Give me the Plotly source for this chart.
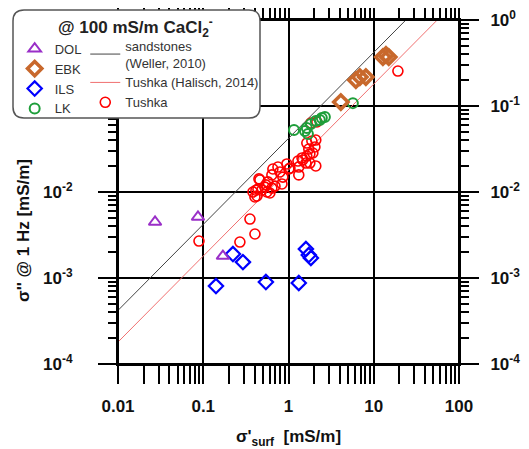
import plotly.graph_objects as go

# ---------------- data ----------------
dol_x = [0.0272, 0.0867, 0.170]
dol_y = [0.00448, 0.00512, 0.00180]

ebk_x = [4.11, 6.17, 6.87, 8.08, 12.8, 13.9, 15.0]
ebk_y = [0.111, 0.200, 0.217, 0.217, 0.371, 0.392, 0.371]

ils_x = [0.223, 0.292, 0.141, 0.543, 1.32, 1.60, 1.73, 1.83]
ils_y = [0.00190, 0.00153, 0.000807, 0.000898, 0.000875, 0.00217, 0.00185, 0.00171]

lk_x = [1.16, 1.56, 1.64, 1.69, 1.83, 2.09, 2.33, 2.46, 2.67, 5.69]
lk_y = [0.0526, 0.0512, 0.0555, 0.0472, 0.0618, 0.0669, 0.0688, 0.0725, 0.0745, 0.108]

tushka_x = [0.0891, 0.353, 0.269, 0.404, 0.383, 0.404, 0.438, 0.487, 0.558, 0.605,
            0.528, 0.638, 0.450, 0.573, 0.638, 0.656, 0.793, 0.859, 0.838, 0.694,
            0.957, 1.01, 1.32, 1.32, 1.47, 1.64, 1.78, 1.93, 2.09, 1.78,
            1.64, 1.88, 2.09, 2.04, 1.73, 1.44, 1.29, 1.04, 0.462, 0.752,
            0.427, 1.83, 2.15, 19.2, 1.60, 0.543, 0.415]
tushka_y = [0.00269, 0.00485, 0.00262, 0.00325, 0.0100, 0.00875, 0.0108, 0.0105, 0.0100, 0.00973,
            0.0114, 0.0111, 0.0142, 0.0131, 0.0158, 0.0185, 0.0171, 0.0149, 0.0124, 0.0117,
            0.0212, 0.0185, 0.0195, 0.0158, 0.0236, 0.0262, 0.0277, 0.0284, 0.0201, 0.0217,
            0.0371, 0.0392, 0.0402, 0.0334, 0.0316, 0.0249, 0.0229, 0.0190, 0.0138, 0.0195,
            0.00898, 0.0634, 0.0652, 0.255, 0.0217, 0.0121, 0.0105]

# model lines sigma'' = l * sigma'_surf
l_weller = 0.042
l_halisch = 0.018
line_x_start = 0.01

x_tickvals = [0.01, 0.1, 1, 10, 100]
x_ticktext = ["0.01", "0.1", "1", "10", "100"]
y_tickvals = [1e-4, 1e-3, 1e-2, 1e-1, 1]
y_ticktext = ["10<sup>-4</sup>", "10<sup>-3</sup>", "10<sup>-2</sup>", "10<sup>-1</sup>", "10<sup>0</sup>"]
y_ticktext_left = ["10<sup>-4</sup>", "10<sup>-3</sup>", "10<sup>-2</sup>", "", ""]  # top two hidden by legend box
x_minor = [k * 10.0 ** d for d in range(-2, 2) for k in range(2, 10)]
y_minor = [k * 10.0 ** d for d in range(-4, 0) for k in range(2, 10)]

FONT = "Arial, Liberation Sans, sans-serif"

fig = go.Figure()

fig.add_trace(go.Scatter(x=[line_x_start, 1 / l_weller], y=[line_x_start * l_weller, 1],
                         mode="lines", line=dict(color="#444444", width=1),
                         name="sandstones<br>(Weller, 2010)", legend="legend2", legendrank=1))
fig.add_trace(go.Scatter(x=[line_x_start, 1 / l_halisch], y=[line_x_start * l_halisch, 1],
                         mode="lines", line=dict(color="#f07070", width=1),
                         name="Tushka (Halisch, 2014)", legend="legend2", legendrank=2))
fig.add_trace(go.Scatter(x=tushka_x, y=tushka_y, mode="markers",
                         marker=dict(symbol="circle-open", size=10, color="#ff0000",
                                     line=dict(width=1.6, color="#ff0000")),
                         name="Tushka", legend="legend2", legendrank=3))
fig.add_trace(go.Scatter(x=lk_x, y=lk_y, mode="markers",
                         marker=dict(symbol="circle-open", size=10, color="#1e9e3a",
                                     line=dict(width=2, color="#1e9e3a")),
                         name="LK", legendrank=4))
fig.add_trace(go.Scatter(x=ebk_x, y=ebk_y, mode="markers",
                         marker=dict(symbol="diamond-open", size=11, color="#c8682c",
                                     line=dict(width=3.5, color="#c8682c")),
                         name="EBK", legendrank=2))
fig.add_trace(go.Scatter(x=ils_x, y=ils_y, mode="markers",
                         marker=dict(symbol="diamond-open", size=11, color="#0000ff",
                                     line=dict(width=2.2, color="#0000ff")),
                         name="ILS", legendrank=3))
fig.add_trace(go.Scatter(x=dol_x, y=dol_y, mode="markers",
                         marker=dict(symbol="triangle-up-open", size=11, color="#9a2fc8",
                                     line=dict(width=2, color="#9a2fc8")),
                         name="DOL", legendrank=1))
# invisible trace so that the right-hand label axis is drawn
fig.add_trace(go.Scatter(x=dol_x, y=dol_y, xaxis="x", yaxis="y2", mode="markers",
                         marker=dict(opacity=0), showlegend=False, hoverinfo="skip"))

minor_common = dict(ticks="outside", ticklen=8, tickwidth=1.5, tickcolor="black", showgrid=False)
axis_common = dict(type="log", showline=True, linecolor="black", linewidth=2,
                   mirror="allticks", ticks="outside", ticklen=18, tickwidth=2,
                   tickcolor="black", showgrid=True, gridcolor="black", gridwidth=2,
                   zeroline=False, automargin=False, ticklabeloverflow="allow",
                   tickfont=dict(family=FONT, size=17, color="#111", weight="bold"))

fig.update_layout(
    width=521, height=441,
    margin=dict(l=110, r=70, t=12, b=85, autoexpand=False),
    paper_bgcolor="white", plot_bgcolor="white",
    xaxis=dict(range=[-2, 2], tickvals=x_tickvals, ticktext=x_ticktext, ticklabelstandoff=8,
               minor=dict(tickvals=x_minor, **minor_common),
               title=dict(text="σ'<sub>surf</sub>  [mS/m]", standoff=17,
                          font=dict(family=FONT, size=17, color="#111", weight="bold")),
               **axis_common),
    yaxis=dict(range=[-4, 0], tickvals=y_tickvals, ticktext=y_ticktext_left, ticklabelstandoff=22,
               minor=dict(tickvals=y_minor, **minor_common),
               **axis_common),
    yaxis2=dict(overlaying="y", side="right", anchor="x", type="log", range=[-4, 0],
                tickvals=y_tickvals, ticktext=y_ticktext, ticks="outside", ticklen=18,
                tickcolor="rgba(0,0,0,0)", ticklabelstandoff=9, showgrid=False,
                showline=False, zeroline=False, automargin=False, ticklabeloverflow="allow",
                tickfont=dict(family=FONT, size=17, color="#111", weight="bold")),
    legend=dict(x=-0.303, y=0.960, xanchor="left", yanchor="top", bgcolor="rgba(0,0,0,0)",
                font=dict(family=FONT, size=13, color="#333"), tracegroupgap=0),
    legend2=dict(x=-0.096, y=0.969, xanchor="left", yanchor="top", bgcolor="rgba(0,0,0,0)",
                 font=dict(family=FONT, size=13, color="#333"), tracegroupgap=0),
    showlegend=True,
)

# frame lines extended past the corners
ex, ey = 18 / 341, 18 / 344
for (x0, y0, x1, y1) in [(-ex, 1, 1 + ex, 1), (1, -ey, 1, 1 + ey),
                         (-ex, 0, 1 + ex, 0), (0, -ey, 0, 1 + ey)]:
    fig.add_shape(type="line", xref="paper", yref="paper", x0=x0, y0=y0, x1=x1, y1=y1,
                  line=dict(color="black", width=2), layer="above")

# rounded legend box
bx0, bx1 = (13 - 118) / 341, (260 - 118) / 341
by0, by1 = (364 - 118) / 344, (364 - 10) / 344
rx, ry = 11 / 341, 11 / 344
path = (f"M {bx0 + rx},{by1} L {bx1 - rx},{by1} Q {bx1},{by1} {bx1},{by1 - ry} "
        f"L {bx1},{by0 + ry} Q {bx1},{by0} {bx1 - rx},{by0} L {bx0 + rx},{by0} "
        f"Q {bx0},{by0} {bx0},{by0 + ry} L {bx0},{by1 - ry} Q {bx0},{by1} {bx0 + rx},{by1} Z")
fig.add_shape(type="path", xref="paper", yref="paper", path=path, fillcolor="white",
              line=dict(color="#555", width=1.5), layer="above")

fig.add_annotation(xref="paper", yref="paper", x=(135 - 118) / 341, y=(364 - 27) / 344,
                   xanchor="center", yanchor="middle",
                   text="@ 100 mS/m CaCl<sub>2</sub><sup>-</sup>", showarrow=False,
                   font=dict(family=FONT, size=17, color="#222", weight="bold"))

# y-axis title (sits lower than the axis centre in the reference)
fig.add_annotation(xref="paper", yref="paper", x=(23 - 118) / 341, y=(364 - 231) / 344,
                   xanchor="center", yanchor="middle", textangle=-90,
                   text="σ'' @ 1 Hz [mS/m]", showarrow=False,
                   font=dict(family=FONT, size=17, color="#111", weight="bold"))

fig.write_html("out.html")
